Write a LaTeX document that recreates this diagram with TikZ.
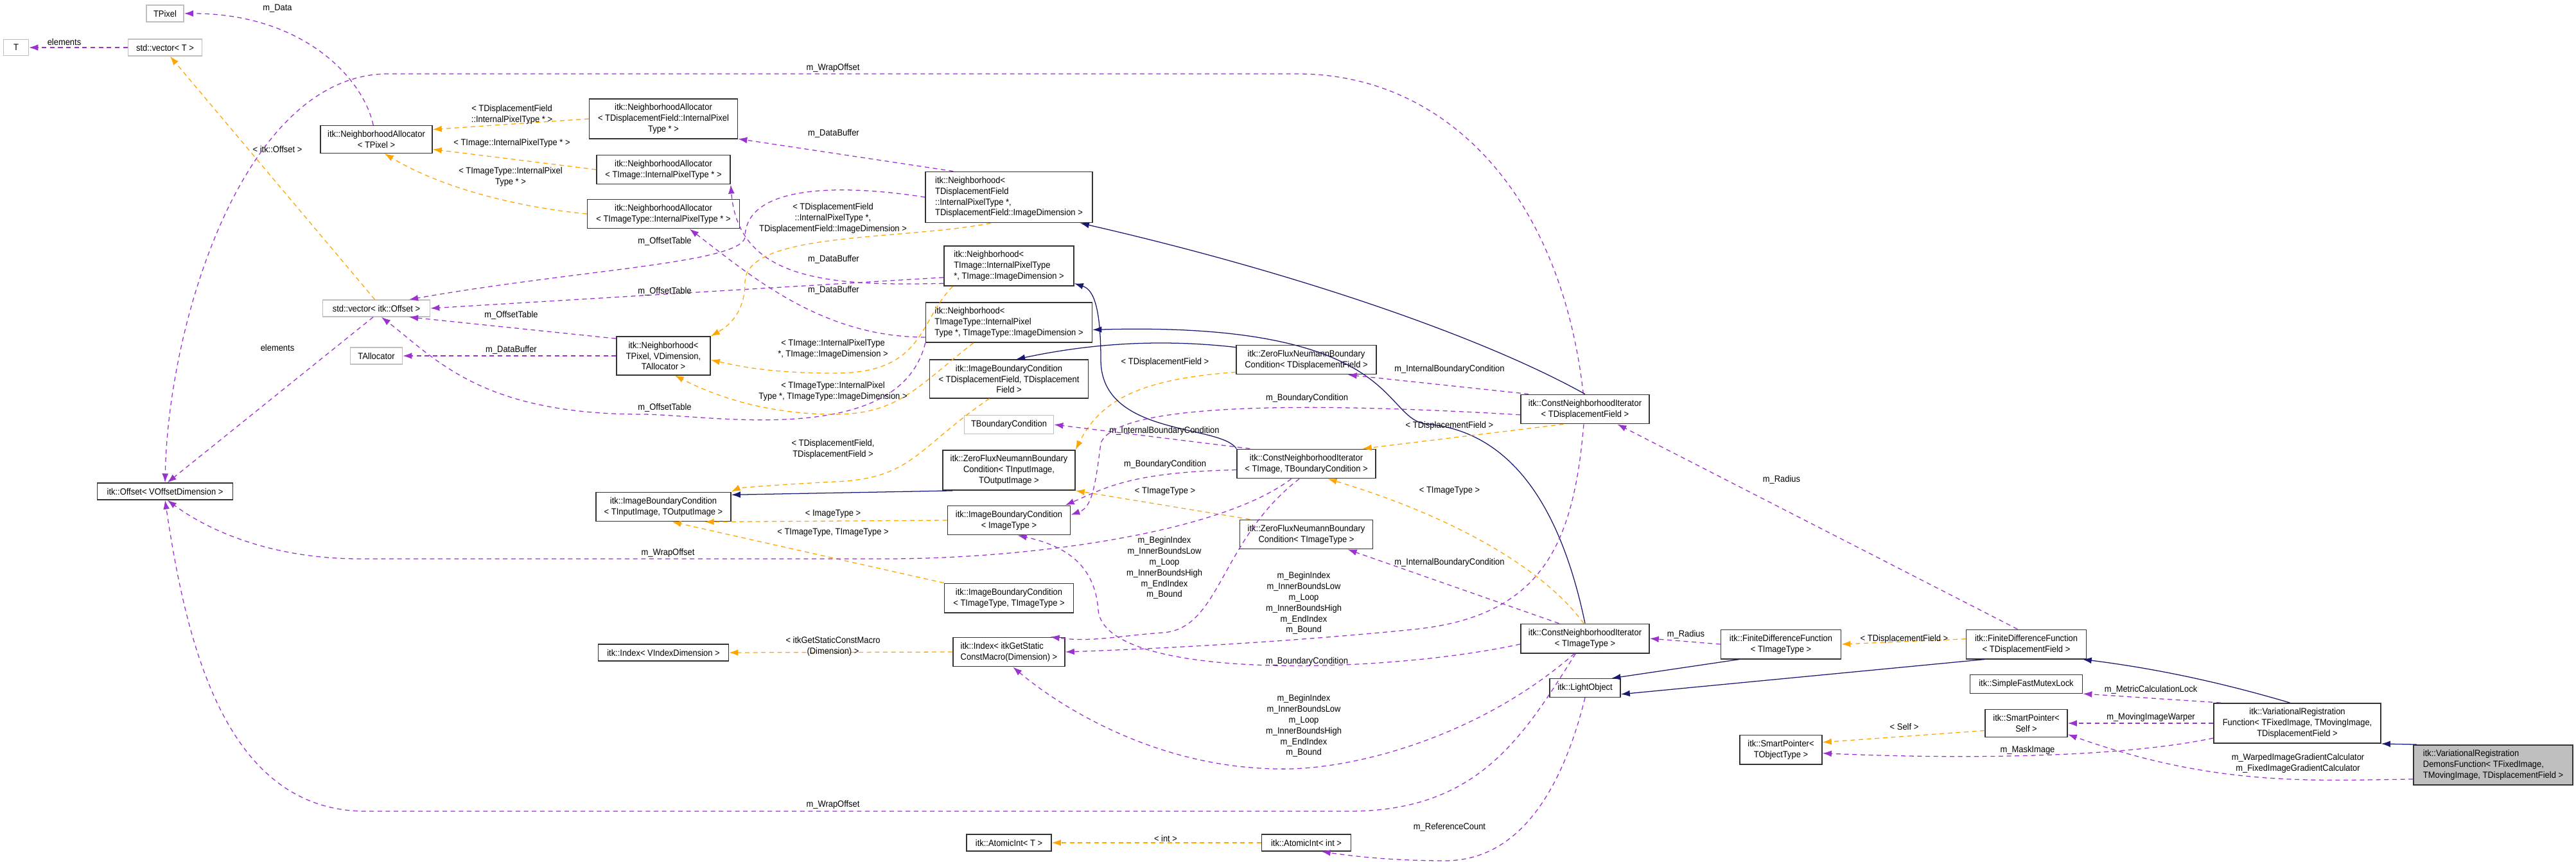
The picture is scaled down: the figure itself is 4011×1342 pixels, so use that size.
\documentclass[tikz,border=0pt]{standalone}
\usepackage{fontspec}
\setmainfont{Liberation Sans}[FakeStretch=0.92]
\usetikzlibrary{arrows.meta}
\definecolor{usecol}{HTML}{9A32CD}
\definecolor{tplcol}{HTML}{FFA500}
\definecolor{inhcol}{HTML}{191970}
\tikzset{>={Latex[length=10pt,width=7pt]}}
\tikzset{cls/.style = {draw=black!80, line width=1.1pt, fill=white, font=\fontsize{10}{12}\selectfont, align=center, inner xsep=4pt, inner ysep=5.5pt, minimum width=#1*0.25mm},
         ext/.style = {cls=#1, draw=black!25},
         main/.style = {cls=#1, fill=black!25},
         lft/.style = {align=left},
         lbl/.style = {font=\fontsize{10}{12}\selectfont, align=center, inner sep=0pt},
         use/.style = {->, draw=usecol, line width=0.9pt, dash pattern=on 5pt off 4pt},
         tpl/.style = {->, draw=tplcol, line width=0.9pt, dash pattern=on 5pt off 4pt},
         inh/.style = {->, draw=inhcol, line width=0.9pt}}

\begin{document}
\begin{tikzpicture}[x=0.25mm, y=-0.25mm]
\useasboundingbox (0,0) rectangle (4011,1342);
% classes
\node[ext=58] (TPixel) at (257,21) {TPixel};
\node[ext=39] (T) at (25,74) {T};
\node[ext=115] (vecT) at (257,74) {std::vector< T >};
\node[cls=174] (naPix) at (586,217) {itk::NeighborhoodAllocator\\< TPixel >};
\node[ext=167] (vecOff) at (586,480) {std::vector< itk::Offset >};
\node[ext=81] (alloc) at (586,554) {TAllocator};
\node[cls=211] (offset) at (257,765) {itk::Offset< VOffsetDimension >};
\node[cls=231] (naDisp) at (1033,185) {itk::NeighborhoodAllocator\\< TDisplacementField::InternalPixel\\Type * >};
\node[cls=208] (naImg) at (1033,264) {itk::NeighborhoodAllocator\\< TImage::InternalPixelType * >};
\node[cls=237] (naImgT) at (1033,333) {itk::NeighborhoodAllocator\\< TImageType::InternalPixelType * >};
\node[cls=146] (nbPix) at (1033,554) {itk::Neighborhood<\\ TPixel, VDimension,\\ TAllocator >};
\node[cls=210] (ibcIO) at (1033,789) {itk::ImageBoundaryCondition\\< TInputImage, TOutputImage >};
\node[cls=203] (idxV) at (1033,1016) {itk::Index< VIndexDimension >};
\node[cls=260, lft] (nbDisp) at (1571,307) {itk::Neighborhood<\\ TDisplacementField\\::InternalPixelType *,\\ TDisplacementField::ImageDimension >};
\node[cls=202, lft] (nbImg) at (1571,414) {itk::Neighborhood<\\ TImage::InternalPixelType\\ *, TImage::ImageDimension >};
\node[cls=259, lft] (nbImgT) at (1571,502) {itk::Neighborhood<\\ TImageType::InternalPixel\\Type *, TImageType::ImageDimension >};
\node[cls=247] (ibcDisp) at (1571,590) {itk::ImageBoundaryCondition\\< TDisplacementField, TDisplacement\\Field >};
\node[ext=139] (tbc) at (1571,661) {TBoundaryCondition};
\node[cls=206] (zfIO) at (1571,732) {itk::ZeroFluxNeumannBoundary\\Condition< TInputImage,\\ TOutputImage >};
\node[cls=191] (ibcImg) at (1571,810) {itk::ImageBoundaryCondition\\< ImageType >};
\node[cls=201] (ibcTT) at (1571,931) {itk::ImageBoundaryCondition\\< TImageType, TImageType >};
\node[cls=174, lft] (idxD) at (1571,1015) {itk::Index< itkGetStatic\\ConstMacro(Dimension) >};
\node[cls=132] (atomT) at (1571,1312) {itk::AtomicInt< T >};
\node[cls=218] (zfDisp) at (2034,560) {itk::ZeroFluxNeumannBoundary\\Condition< TDisplacementField >};
\node[cls=216] (cniTBC) at (2034,722) {itk::ConstNeighborhoodIterator\\< TImage, TBoundaryCondition >};
\node[cls=207] (zfImgT) at (2034,832) {itk::ZeroFluxNeumannBoundary\\Condition< TImageType >};
\node[cls=139] (atomI) at (2034,1312) {itk::AtomicInt< int >};
\node[cls=200] (cniDisp) at (2468,637) {itk::ConstNeighborhoodIterator\\< TDisplacementField >};
\node[cls=200] (cniImgT) at (2468,994) {itk::ConstNeighborhoodIterator\\< TImageType >};
\node[cls=110] (light) at (2468,1071) {itk::LightObject};
\node[cls=187] (fdfImgT) at (2773,1003) {itk::FiniteDifferenceFunction\\< TImageType >};
\node[cls=128] (spObj) at (2773,1167) {itk::SmartPointer<\\ TObjectType >};
\node[cls=187] (fdfDisp) at (3155,1003) {itk::FiniteDifferenceFunction\\< TDisplacementField >};
\node[cls=175] (mutex) at (3155,1065) {itk::SimpleFastMutexLock};
\node[cls=128] (spSelf) at (3155,1126) {itk::SmartPointer<\\ Self >};
\node[cls=260] (vrf) at (3577,1126) {itk::VariationalRegistration\\Function< TFixedImage, TMovingImage,\\ TDisplacementField >};
\node[main=248, lft] (demons) at (3882,1191) {itk::VariationalRegistration\\DemonsFunction< TFixedImage,\\ TMovingImage, TDisplacementField >};

% allocators and vectors
\draw[use] (naPix) .. controls (565,120) and (470,21) .. (TPixel) node[lbl] at (432,13) {m\_Data};
\draw[use] (vecT) -- (T) node[lbl] at (100,65) {elements};
\draw[tpl] (vecOff.100) -- (vecT.-60) node[lbl] at (432,232) {< itk::Offset >};
\draw[tpl] (naDisp.west) -- (naPix.10) node[lbl] at (797,178) {< TDisplacementField\\::InternalPixelType * >};
\draw[tpl] (naImg.west) -- (naPix.-10) node[lbl] at (797,223) {< TImage::InternalPixelType * >};
\draw[tpl] (naImgT.west) .. controls (830,325) and (700,300) .. (naPix.-60) node[lbl] at (795,275) {< TImageType::InternalPixel\\Type * >};
\draw[use] (vecOff.-110) -- (offset.75) node[lbl] at (432,541) {elements};
\draw[use] (nbPix.west) -- (alloc.east) node[lbl] at (796,545) {m\_DataBuffer};
\draw[use] (nbPix.160) -- (vecOff.-15) node[lbl] at (796,491) {m\_OffsetTable};

% neighborhoods
\draw[use] (nbDisp.155) -- (naDisp.-15) node[lbl] at (1298,208) {m\_DataBuffer};
\draw[use] (nbDisp.west) .. controls (1300,285) and (1160,290) .. (1160,370) .. controls (1150,410) and (900,420) .. (vecOff.15) node[lbl] at (1035,376) {m\_OffsetTable};
\draw[use] (nbImg.-170) -- (vecOff.east) node[lbl] at (1035,454) {m\_OffsetTable};
\draw[use] (nbImg.-165) .. controls (1300,445) and (1150,440) .. (naImg.south east) node[lbl] at (1298,404) {m\_DataBuffer};
\draw[use] (nbImgT.-170) .. controls (1280,525) and (1170,430) .. (naImgT.-30) node[lbl] at (1298,452) {m\_DataBuffer};
\draw[use] (nbImgT.south west) .. controls (1400,700) and (1100,645) .. (1000,645) .. controls (750,645) and (680,560) .. (vecOff.-60) node[lbl] at (1035,635) {m\_OffsetTable};
\draw[tpl] (nbDisp.-125) .. controls (1400,375) and (1160,360) .. (1160,440) .. controls (1160,490) and (1130,510) .. (nbPix.north east) node[lbl] at (1297,340) {< TDisplacementField\\::InternalPixelType *,\\TDisplacementField::ImageDimension >};
\draw[tpl] (nbImg.-160) .. controls (1430,500) and (1440,581) .. (1300,581) .. controls (1200,581) and (1150,570) .. (nbPix.-5) node[lbl] at (1297,543) {< TImage::InternalPixelType\\*, TImage::ImageDimension >};
\draw[tpl] (nbImgT.-150) .. controls (1430,600) and (1400,645) .. (1300,645) .. controls (1200,645) and (1120,620) .. (nbPix.-60) node[lbl] at (1297,609) {< TImageType::InternalPixel\\Type *, TImageType::ImageDimension >};

% boundary conditions
\draw[tpl] (ibcDisp.-135) .. controls (1425,700) and (1420,745) .. (1300,750) .. controls (1200,755) and (1150,760) .. (ibcIO.north east) node[lbl] at (1297,699) {< TDisplacementField,\\TDisplacementField >};
\draw[inh] (zfIO.-160) -- (ibcIO.10);
\draw[tpl] (ibcImg.west) -- (ibcIO.-20) node[lbl] at (1297,800) {< ImageType >};
\draw[tpl] (ibcTT.north west) -- (ibcIO.-60) node[lbl] at (1297,829) {< TImageType, TImageType >};
\draw[tpl] (idxD.west) -- (idxV.east) node[lbl] at (1297,1006) {< itkGetStaticConstMacro\\(Dimension) >};
\draw[tpl] (atomI.west) -- (atomT.east) node[lbl] at (1815,1305) {< int >};
\draw[inh] (zfDisp.170) .. controls (1830,530) and (1720,530) .. (ibcDisp.70);
\draw[tpl] (zfDisp.-170) .. controls (1780,590) and (1715,620) .. (zfIO.north east) node[lbl] at (1814,564) {< TDisplacementField >};
\draw[tpl] (zfImgT.165) -- (zfIO.south east) node[lbl] at (1814,765) {< TImageType >};

% iterators
\draw[use] (cniDisp) .. controls (2430,300) and (2250,115) .. (2020,115) -- (600,115) .. controls (380,120) and (262,500) .. (offset.north) node[lbl] at (1297,106) {m\_WrapOffset};
\draw[use] (cniTBC.-135) .. controls (1900,830) and (1600,870) .. (1380,870) -- (560,870) .. controls (430,870) and (330,830) .. (offset.-75) node[lbl] at (1040,861) {m\_WrapOffset};
\draw[use] (cniImgT) .. controls (2370,1150) and (2300,1263) .. (2100,1263) -- (570,1263) .. controls (350,1263) and (290,1000) .. (offset.south) node[lbl] at (1297,1253) {m\_WrapOffset};
\draw[inh] (cniDisp.north) .. controls (2300,520) and (2000,420) .. (nbDisp.-20);
\draw[inh] (cniTBC.north west) .. controls (1900,660) and (1714,680) .. (1714,560) .. controls (1714,470) and (1700,450) .. (nbImg.-15);
\draw[inh] (cniImgT.north) .. controls (2420,740) and (2320,668) .. (2220,660) .. controls (2150,650) and (2180,500) .. (nbImgT.-5);
\draw[use] (cniTBC.165) -- (tbc.east) node[lbl] at (1813,671) {m\_InternalBoundaryCondition};
\draw[use] (cniTBC.-175) .. controls (1760,735) and (1720,760) .. (ibcImg.15) node[lbl] at (1814,723) {m\_BoundaryCondition};
\draw[use] (cniDisp.-175) .. controls (2100,630) and (1740,620) .. (1714,690) .. controls (1705,760) and (1700,790) .. (ibcImg.5) node[lbl] at (2035,620) {m\_BoundaryCondition};
\draw[use] (cniImgT.-175) .. controls (2150,1050) and (1720,1060) .. (1710,950) .. controls (1705,880) and (1660,850) .. (ibcImg.-60) node[lbl] at (2035,1030) {m\_BoundaryCondition};
\draw[use] (cniTBC.-115) .. controls (1900,840) and (1900,980) .. (1810,985) .. controls (1740,990) and (1700,1000) .. (idxD.20) node[lbl] at (1813,884) {m\_BeginIndex\\m\_InnerBoundsLow\\m\_Loop\\m\_InnerBoundsHigh\\m\_EndIndex\\m\_Bound};
\draw[use] (cniDisp.-95) .. controls (2450,850) and (2400,960) .. (2200,980) .. controls (2000,1000) and (1800,1010) .. (idxD.east) node[lbl] at (2030,939) {m\_BeginIndex\\m\_InnerBoundsLow\\m\_Loop\\m\_InnerBoundsHigh\\m\_EndIndex\\m\_Bound};
\draw[use] (cniImgT.-125) .. controls (2300,1150) and (2100,1200) .. (1990,1197) .. controls (1800,1195) and (1650,1100) .. (idxD.-75) node[lbl] at (2030,1130) {m\_BeginIndex\\m\_InnerBoundsLow\\m\_Loop\\m\_InnerBoundsHigh\\m\_EndIndex\\m\_Bound};
\draw[tpl] (cniImgT.95) .. controls (2400,880) and (2250,800) .. (cniTBC.-35) node[lbl] at (2257,764) {< TImageType >};
\draw[tpl] (cniDisp.-145) -- (cniTBC.15) node[lbl] at (2257,663) {< TDisplacementField >};
\draw[use] (cniDisp.165) -- (zfDisp.-20) node[lbl] at (2257,575) {m\_InternalBoundaryCondition};
\draw[use] (cniImgT.150) -- (zfImgT.-20) node[lbl] at (2257,876) {m\_InternalBoundaryCondition};

% functions
\draw[use] (fdfDisp.120) -- (cniDisp.-25) node[lbl] at (2774,747) {m\_Radius};
\draw[use] (fdfImgT.west) -- (cniImgT.east) node[lbl] at (2625,988) {m\_Radius};
\draw[inh] (fdfImgT.-160) -- (light.20);
\draw[inh] (fdfDisp.-160) -- (light.-10);
\draw[tpl] (fdfDisp.175) -- (fdfImgT.east) node[lbl] at (2965,995) {< TDisplacementField >};
\draw[use] (light.south) .. controls (2440,1200) and (2380,1340) .. (2250,1340) .. controls (2180,1340) and (2120,1335) .. (atomI.-30) node[lbl] at (2257,1288) {m\_ReferenceCount};
\draw[tpl] (spSelf.-170) -- (spObj.10) node[lbl] at (2965,1131) {< Self >};
\draw[use] (vrf.-170) .. controls (3300,1180) and (3050,1182) .. (spObj.-5) node[lbl] at (3157,1168) {m\_MaskImage};
\draw[use] (vrf.165) -- (mutex.south east) node[lbl] at (3349,1074) {m\_MetricCalculationLock};
\draw[use] (vrf.west) -- (spSelf.east) node[lbl] at (3349,1117) {m\_MovingImageWarper};
\draw[inh] (vrf.110) .. controls (3450,1060) and (3350,1040) .. (fdfDisp.-15);
\draw[inh] (demons.165) -- (vrf.south east);
\draw[use] (demons.-170) .. controls (3600,1215) and (3450,1225) .. (spSelf.-15) node[lbl] at (3578,1188) {m\_WarpedImageGradientCalculator\\m\_FixedImageGradientCalculator};
\end{tikzpicture}
\end{document}
